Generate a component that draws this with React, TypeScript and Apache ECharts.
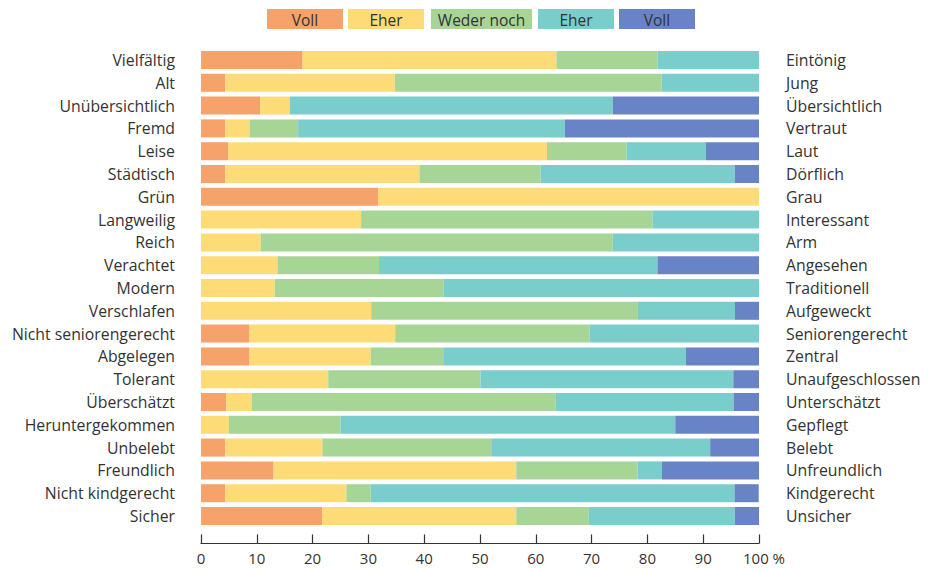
import React, { useEffect, useRef } from "react";
import * as echarts from "echarts";

const leftLabels = [
  "Vielfältig", "Alt", "Unübersichtlich", "Fremd", "Leise", "Städtisch", "Grün",
  "Langweilig", "Reich", "Verachtet", "Modern", "Verschlafen", "Nicht seniorengerecht",
  "Abgelegen", "Tolerant", "Überschätzt", "Heruntergekommen", "Unbelebt", "Freundlich",
  "Nicht kindgerecht", "Sicher",
];
const rightLabels = [
  "Eintönig", "Jung", "Übersichtlich", "Vertraut", "Laut", "Dörflich", "Grau",
  "Interessant", "Arm", "Angesehen", "Traditionell", "Aufgeweckt", "Seniorengerecht",
  "Zentral", "Unaufgeschlossen", "Unterschätzt", "Gepflegt", "Belebt", "Unfreundlich",
  "Kindgerecht", "Unsicher",
];

const legendLabels = ["Voll", "Eher", "Weder noch", "Eher", "Voll"];
const seriesNames = ["Voll (links)", "Eher (links)", "Weder noch", "Eher (rechts)", "Voll (rechts)"];
const colors = ["#F5A26B", "#FDDC77", "#A7D596", "#79CDCB", "#6884C6"];

const vollLeft = [18.2, 4.35, 10.6, 4.35, 4.9, 4.35, 31.8, 0, 0, 0, 0, 0, 8.7, 8.7, 0, 4.55, 0, 4.35, 13.0, 4.35, 21.7];
const eherLeft = [45.5, 30.4, 5.3, 4.35, 57.1, 34.8, 68.2, 28.7, 10.7, 13.7, 13.2, 30.5, 26.1, 21.7, 22.8, 4.55, 5.0, 17.4, 43.5, 21.7, 34.8];
const weder = [18.1, 47.8, 0, 8.7, 14.3, 21.7, 0, 52.2, 63.1, 18.2, 30.3, 47.8, 34.8, 13.0, 27.3, 54.5, 20.0, 30.4, 21.7, 4.35, 13.0];
const eherRight = [18.2, 17.45, 57.9, 47.8, 14.2, 34.8, 0, 19.1, 26.2, 49.9, 56.5, 17.4, 30.4, 43.5, 45.3, 31.85, 60.0, 39.1, 4.4, 65.2, 26.15];
const vollRight = [0, 0, 26.2, 34.8, 9.5, 4.35, 0, 0, 0, 18.2, 0, 4.3, 0, 13.1, 4.6, 4.55, 15.0, 8.75, 17.4, 4.35, 4.35];

const seriesData = [vollLeft, eherLeft, weder, eherRight, vollRight];

const legendX = [267, 348, 431, 538, 619];
const legendW = [76, 76, 101, 76, 76];

const FONT = "'Open Sans', 'Noto Sans', sans-serif";
const TEXT_COLOR = "#333333";

export default function App() {
  const ref = useRef<HTMLDivElement>(null);

  useEffect(() => {
    document.body.style.margin = "0";
    if (!ref.current) return;
    const chart = echarts.init(ref.current, null, { renderer: "svg" });

    const legendGraphics: any[] = [];
    legendLabels.forEach((label, i) => {
      legendGraphics.push({
        type: "rect",
        shape: { x: legendX[i], y: 9, width: legendW[i], height: 20 },
        style: { fill: colors[i] },
      });
      legendGraphics.push({
        type: "text",
        x: legendX[i] + legendW[i] / 2,
        y: 19.5,
        style: {
          text: label,
          fill: "#333",
          font: `15.5px ${FONT}`,
          textAlign: "center",
          textVerticalAlign: "middle",
        },
      });
    });

    chart.setOption({
      animation: false,
      graphic: legendGraphics,
      grid: { left: 201, right: 169, top: 48.6, bottom: 40.6, containLabel: false },
      xAxis: {
        type: "value",
        min: 0,
        max: 100,
        interval: 10,
        offset: 16,
        splitLine: { show: false },
        axisLine: { show: true, lineStyle: { color: "#333", width: 1.2 } },
        axisTick: { show: true, inside: true, length: 9, lineStyle: { color: "#333", width: 1.2 } },
        axisLabel: {
          color: TEXT_COLOR,
          fontFamily: FONT,
          fontSize: 15,
          margin: 7,
          formatter: (v: number) => (v === 100 ? "{p|100 %}" : String(v)),
          rich: { p: { fontFamily: FONT, fontSize: 15, color: TEXT_COLOR, padding: [0, 0, 0, 10] } },
        },
      },
      yAxis: [
        {
          type: "category",
          data: leftLabels,
          inverse: true,
          position: "left",
          axisLine: { show: false },
          axisTick: { show: false },
          axisLabel: { color: TEXT_COLOR, fontFamily: FONT, fontSize: 15.8, margin: 26 },
        },
        {
          type: "category",
          data: rightLabels,
          inverse: true,
          position: "right",
          axisLine: { show: false },
          axisTick: { show: false },
          axisLabel: { color: TEXT_COLOR, fontFamily: FONT, fontSize: 15.8, margin: 27 },
        },
      ],
      series: seriesData.map((d, i) => ({
        name: seriesNames[i],
        type: "bar",
        stack: "total",
        yAxisIndex: 0,
        barWidth: 18,
        itemStyle: { color: colors[i] },
        data: d,
      })),
    });

    return () => chart.dispose();
  }, []);

  return <div ref={ref} style={{ width: 928, height: 568 }} />;
}
